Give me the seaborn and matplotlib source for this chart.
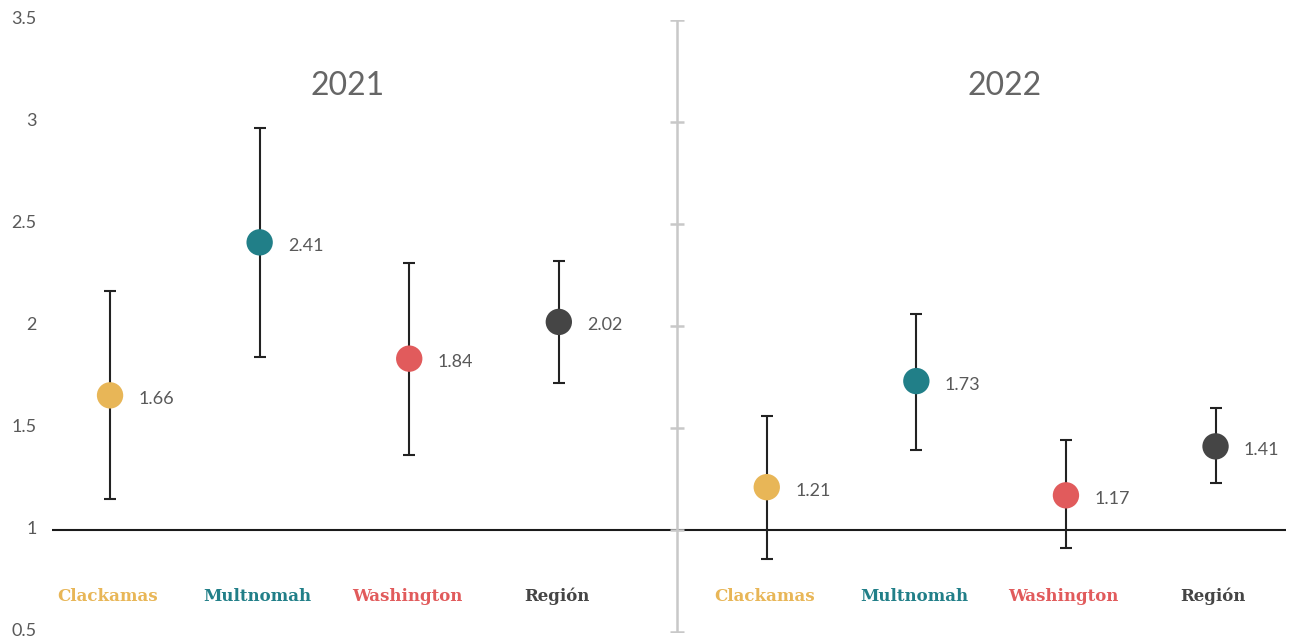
import matplotlib
matplotlib.use("Agg")
import matplotlib.pyplot as plt
import matplotlib.transforms as mtransforms
import seaborn as sns
import pandas as pd

# Data
years = ["2021", "2022"]
counties = ["Clackamas", "Multnomah", "Washington", "Región"]
rate_2021 = [1.66, 2.41, 1.84, 2.02]
low_2021 = [1.15, 1.85, 1.37, 1.72]
high_2021 = [2.17, 2.97, 2.31, 2.32]
rate_2022 = [1.21, 1.73, 1.17, 1.41]
low_2022 = [0.86, 1.39, 0.91, 1.23]
high_2022 = [1.56, 2.06, 1.44, 1.60]
y_ticks = [0.5, 1, 1.5, 2, 2.5, 3, 3.5]
y_tick_labels = ["0.5", "1", "1.5", "2", "2.5", "3", "3.5"]

palette = {"Clackamas": "#E8B657", "Multnomah": "#217F88",
           "Washington": "#E15B5C", "Región": "#454545"}
text_gray = "#595959"

sns.set_theme(style="white")
plt.rcParams["font.family"] = ["Lato", "DejaVu Sans"]

# Layout: four categories per year, with a gap between the two year groups
group_shift = 4.39
sep_x = 3.79

rows = []
for g, (yr, rates, lows, highs) in enumerate(
        [("2021", rate_2021, low_2021, high_2021),
         ("2022", rate_2022, low_2022, high_2022)]):
    for i, c in enumerate(counties):
        rows.append({"year": yr, "county": c, "pos": i + g * group_shift,
                     "rate": rates[i], "low": lows[i], "high": highs[i]})
df = pd.DataFrame(rows)

fig = plt.figure(figsize=(12.96, 6.39), dpi=100)
ax = fig.add_axes([52 / 1296, 1 - 632 / 639, (1286 - 52) / 1296, (632 - 20) / 639])

# Reference line at 1
ax.axhline(1, color="#1a1a1a", lw=1.5, zorder=1)

# Year separator with cross ticks
ax.plot([sep_x, sep_x], [y_ticks[0], y_ticks[-1]], color="#C8C8C8", lw=1.8, zorder=1,
        solid_capstyle="butt")
ax.plot([sep_x] * len(y_ticks), y_ticks, ls="none", marker="_", markersize=10,
        markeredgewidth=1.8, color="#C8C8C8", zorder=1)

# Confidence intervals
ax.errorbar(df["pos"], df["rate"],
            yerr=[df["rate"] - df["low"], df["high"] - df["rate"]],
            fmt="none", ecolor="#222222", elinewidth=1.5, capsize=4.3,
            capthick=1.5, zorder=2)

# Point estimates
sns.scatterplot(data=df, x="pos", y="rate", hue="county", palette=palette,
                s=360, linewidth=0, legend=False, ax=ax, zorder=3)

# Value labels
for _, r in df.iterrows():
    ax.annotate(f"{r['rate']:.2f}", (r["pos"], r["rate"]), xytext=(20.5, -2.5),
                textcoords="offset points", va="center", ha="left",
                fontsize=13, color=text_gray)

# Category labels
for _, r in df.iterrows():
    ax.text(r["pos"] - 0.015, 0.676, r["county"], ha="center", va="center",
            fontsize=12, fontweight="bold", family="DejaVu Serif",
            color=palette[r["county"]])

# Year titles
for g, yr in enumerate(years):
    ax.text(1.59 + g * group_shift, 3.175, yr, ha="center", va="center",
            fontsize=23, color="#666666")

ax.set_xlim(-0.388, 7.861)
ax.set_ylim(0.5, 3.5)
ax.set_yticks(y_ticks)
ax.set_yticklabels(y_tick_labels)
ax.set_xticks([])
ax.set_xlabel("")
ax.set_ylabel("")
ax.tick_params(axis="y", length=0, pad=11, labelsize=13, labelcolor=text_gray)
lift = mtransforms.ScaledTranslation(0, 2 / 100, fig.dpi_scale_trans)
for lbl in ax.get_yticklabels():
    lbl.set_horizontalalignment("right")
    lbl.set_transform(lbl.get_transform() + lift)
for s in ax.spines.values():
    s.set_visible(False)

fig.savefig("out.png", dpi=100)
